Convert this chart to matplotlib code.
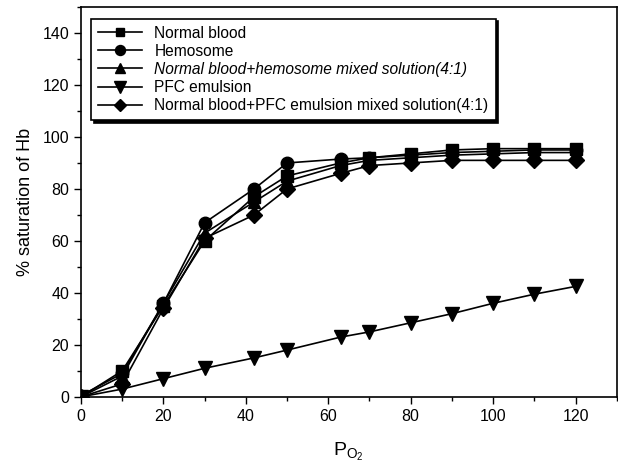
import matplotlib.pyplot as plt
from matplotlib.ticker import MultipleLocator

plt.rcParams['font.family'] = ['Liberation Sans', 'DejaVu Sans']

# pressione parziale O2 (punti misurati)
po2 = [0, 10, 20, 30, 42, 50, 63, 70, 80, 90, 100, 110, 120]

normal_blood = [0, 10, 35, 60, 77, 85, 90, 92, 93.5, 95, 95.5, 95.5, 95.5]
hemosome = [0.5, 9, 36, 67, 80, 90, 91.5, 92, 93, 94, 94.5, 95, 95]
mix_hemosome = [0, 8, 36, 63, 75, 83, 89, 91, 92, 93, 93.5, 94, 94]
pfc = [0, 3, 7, 11, 15, 18, 23, 25, 28.5, 32, 36, 39.5, 42.5]
mix_pfc = [0, 5, 34, 61, 70, 80, 86, 89, 90, 91, 91, 91, 91]

labels = ["Normal blood", "Hemosome",
          "Normal blood+hemosome mixed solution(4:1)",
          "PFC emulsion",
          "Normal blood+PFC emulsion mixed solution(4:1)"]
serie = [normal_blood, hemosome, mix_hemosome, pfc, mix_pfc]
markers = ["s", "o", "^", "v", "D"]
sizes = [8, 9, 9, 10, 8]

fig = plt.figure(figsize=(6.18, 4.68), dpi=100)
ax = fig.add_axes([0.131, 0.152, 0.867, 0.833])

for y, m, s, lab in zip(serie, markers, sizes, labels):
    ax.plot(po2, y, color="black", lw=1.2, marker=m, ms=s, label=lab)

ax.set_xlim(0, 130)
ax.set_ylim(0, 150)
ax.xaxis.set_minor_locator(MultipleLocator(10))
ax.yaxis.set_minor_locator(MultipleLocator(10))
ax.set_xticks([0, 20, 40, 60, 80, 100, 120])
ax.set_yticks([0, 20, 40, 60, 80, 100, 120, 140])
ax.tick_params(which="major", direction="out", length=5, width=1, labelsize=11.5)
ax.tick_params(which="minor", direction="out", length=3, width=1)
for sp in ax.spines.values():
    sp.set_linewidth(1.2)

ax.set_xlabel(r"P$_{\mathregular{O_2}}$", fontsize=14, labelpad=12)
ax.set_ylabel("% saturation of Hb", fontsize=13, labelpad=6)

leg = ax.legend(loc="upper left", bbox_to_anchor=(0.005, 0.99), fontsize=11.2,
                frameon=True, fancybox=False, edgecolor="black",
                shadow={"color": "black", "alpha": 1},
                handlelength=2.8, labelspacing=0.2, borderpad=0.45,
                markerscale=0.8)
leg.get_frame().set_linewidth(1.2)
leg.get_texts()[2].set_style("italic")

fig.savefig("out.png", dpi=100)
